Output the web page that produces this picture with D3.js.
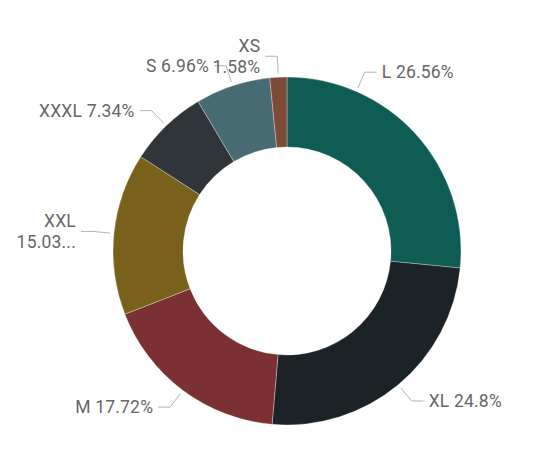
<!DOCTYPE html>
<html>
    <head>
        <meta charset="utf-8">
        <title>Size share donut</title>
        <script src="https://d3js.org/d3.v7.min.js"></script>
        <style>
            body { margin: 0; background: #fff; }
            .label { font-family: Roboto, sans-serif; font-size: 17.5px; fill: #666666; letter-spacing: 0.2px; }
            .leader { fill: none; stroke: #b3b3b3; stroke-width: 1; }
        </style>
    </head>
    <body>
        <div id="chart"></div>
        <script>
            var width = 545, height = 475;
            var cx = 287, cy = 251, outerR = 174, innerR = 104;

            // data, clockwise from 12 o'clock
            const sizes = ["L", "XL", "M", "XXL", "XXXL", "S", "XS"];
            const shares = [26.56, 24.8, 17.72, 15.03, 7.34, 6.96, 1.58];
            const colors = ["#0f5c55", "#1c2326", "#7b3033", "#7a611b", "#2f3538", "#486a73", "#7d4a35"];

            // label tweaks (leader anchor angle in degrees, wrap, truncate)
            var labelTweaks = {
                "L": { angle: 23.5 },
                "XXL": { wrap: true, truncate: 5 },
                "XS": { wrap: true }
            };

            var svg = d3.select("#chart")
                .append("svg")
                .attr("width", width)
                .attr("height", height);

            var g = svg.append("g")
                .attr("transform", "translate(" + cx + "," + cy + ")");

            var data = sizes.map(function (s, i) {
                return { size: s, value: shares[i], color: colors[i] };
            });

            var pie = d3.pie()
                .sort(null)
                .value(function (d) { return d.value; });

            var arc = d3.arc()
                .innerRadius(innerR)
                .outerRadius(outerR);

            var arcs = pie(data);

            g.selectAll("path.slice")
                .data(arcs)
                .enter()
                .append("path")
                .attr("class", "slice")
                .attr("d", arc)
                .attr("fill", function (d) { return d.data.color; })
                .attr("stroke", "#ffffff")
                .attr("stroke-opacity", 0.5)
                .attr("stroke-width", 0.6);

            // leader lines + labels
            var startR = outerR + 4, elbowR = outerR + 21, tail = 12, gap = 5, lineH = 21;

            arcs.forEach(function (d) {
                var tw = labelTweaks[d.data.size] || {};
                var a = tw.angle != null ? tw.angle * Math.PI / 180 : (d.startAngle + d.endAngle) / 2;
                var sx = Math.sin(a) * startR, sy = -Math.cos(a) * startR;
                var ex = Math.sin(a) * elbowR, ey = -Math.cos(a) * elbowR;
                var right = Math.sin(a) >= 0;
                var tx = ex + (right ? tail : -tail);

                g.append("path")
                    .attr("class", "leader")
                    .attr("d", d3.line()([[sx, sy], [ex, ey], [tx, ey]]));

                var pct = d.data.value + "%";
                if (tw.truncate) pct = String(d.data.value).slice(0, tw.truncate) + "...";
                var lines = tw.wrap ? [d.data.size, pct] : [d.data.size + " " + pct];

                var text = g.append("text")
                    .attr("class", "label")
                    .attr("text-anchor", right ? "start" : "end")
                    .attr("x", tx + (right ? gap : -gap))
                    .attr("y", ey - (lines.length - 1) * lineH / 2);

                lines.forEach(function (ln, i) {
                    text.append("tspan")
                        .attr("x", tx + (right ? gap : -gap))
                        .attr("dy", i === 0 ? "0.36em" : lineH)
                        .text(ln);
                });
            });
        </script>
    </body>
</html>
